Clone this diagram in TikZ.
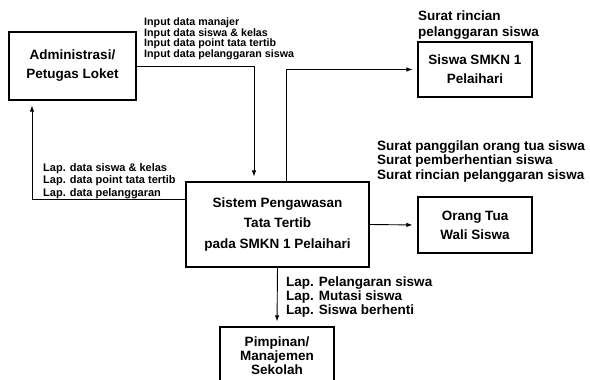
\documentclass[tikz,border=0pt]{standalone}
\usepackage{fontspec}
\setmainfont{Liberation Sans}
\usetikzlibrary{arrows.meta}

\tikzset{
  kotak/.style={draw, line width=1.1pt, inner sep=0pt, align=center,
    font=\fontsize{13.5}{19}\selectfont\bfseries},
  ket/.style={anchor=base west, inner sep=0pt, align=left,
    font=\fontsize{13.5}{14.7}\selectfont\bfseries},
  alir/.style={line width=0.9pt, -{Latex[length=6pt,width=4.5pt]}, shorten >=5pt},
}

\begin{document}
\begin{tikzpicture}[x=1pt,y=-1pt]
        \useasboundingbox (0,0) rectangle (590,380);

        % kotak entitas
        \node[kotak, minimum width=127pt, minimum height=68pt] (admin) at (72.5,66) {Administrasi/\\Petugas Loket};
        \node[kotak, minimum width=114pt, minimum height=55pt] (siswa) at (475,69.5) {Siswa SMKN 1\\Pelaihari};
        \node[kotak, minimum width=183pt, minimum height=85pt, font=\fontsize{13.5}{20.5}\selectfont\bfseries] (sistem) at (277.5,224.5) {Sistem Pengawasan\\Tata Tertib\\pada SMKN 1 Pelaihari};
        \node[kotak, minimum width=114pt, minimum height=56pt] (ortu) at (475,225) {Orang Tua\\Wali Siswa};
        \node[kotak, minimum width=114pt, minimum height=58pt, font=\fontsize{13.5}{14}\selectfont\bfseries] (pimpinan) at (277,356) {Pimpinan/\\Manajemen\\Sekolah};

        % aliran data
        \draw[alir] (admin.east) -| ([xshift=-23.5pt]sistem.north);
        \draw[alir] ([yshift=25.5pt]sistem.west) -| ([xshift=-40.5pt]admin.south);
        \draw[alir] ([xshift=8.5pt]sistem.north) |- (siswa.west);
        \draw[alir] (sistem.east) -- (ortu.west);
        \draw[alir] (sistem.south) -- (pimpinan.north);

        % keterangan (titik = garis dasar baris terakhir)
        \node[ket, font=\fontsize{10.7}{10.7}\selectfont\bfseries] (input) at (144,57.5) {Input data manajer\\Input data siswa \& kelas\\Input data point tata tertib\\Input data pelanggaran siswa};
        \node[ket, font=\fontsize{11}{12.5}\selectfont\bfseries] (lapdata) at (43,196) {Lap. data siswa \& kelas\\Lap. data point tata tertib\\Lap. data pelanggaran};
        \node[ket, font=\fontsize{13.5}{16}\selectfont\bfseries] (suratsiswa) at (418,36.5) {Surat rincian\\pelanggaran siswa};
        \node[ket] (suratortu) at (377,179.5) {Surat panggilan orang tua siswa\\Surat pemberhentian siswa\\Surat rincian pelanggaran siswa};
        \node[ket, font=\fontsize{13.5}{14}\selectfont\bfseries] (lapsiswa) at (286,314.5) {Lap. Pelangaran siswa\\Lap. Mutasi siswa\\Lap. Siswa berhenti};
    \end{tikzpicture}
\end{document}
